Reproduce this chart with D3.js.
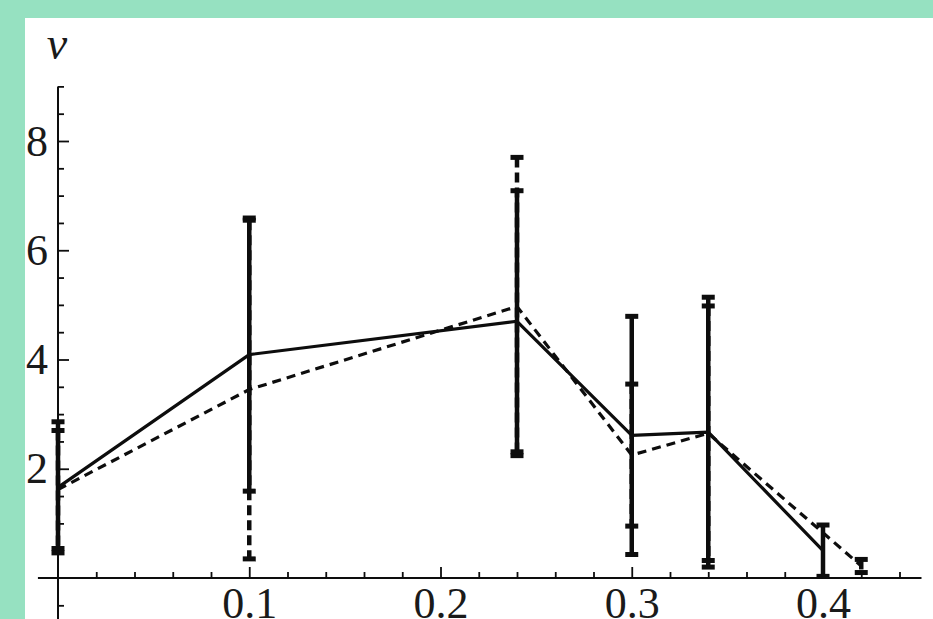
<!DOCTYPE html>
<html>
<head>
<meta charset="utf-8">
<script src="https://cdn.jsdelivr.net/npm/d3@7"></script>
<style>
  html, body { margin: 0; padding: 0; background: #96e1c1; overflow: hidden; }
  svg { display: block; }
</style>
</head>
<body>
<div id="plot_canvas"></div>
<script>
// values
const solidX = [0, 0.1, 0.24, 0.3, 0.34, 0.4];
const solidY = [1.66, 4.09, 4.70, 2.61, 2.67, 0.5];
const solidErr = [1.2, 2.5, 2.39, 2.18, 2.47, 0.47];

const dashedX = [0, 0.1, 0.24, 0.3, 0.34, 0.42];
const dashedY = [1.62, 3.45, 4.97, 2.25, 2.65, 0.22];
const dashedErr = [1.08, 3.1, 2.73, 1.3, 2.33, 0.12];

const xTickLabels = [0.1, 0.2, 0.3, 0.4];
const yTickLabels = [2, 4, 6, 8];
const yAxisLabel = 'v';

drawChart();

function drawChart() {
    const W = 933, H = 619;

    const svg = d3.select('#plot_canvas')
        .append('svg')
        .attr('width', W)
        .attr('height', H);

    // green frame + white panel
    svg.append('rect').attr('width', W).attr('height', H).attr('fill', '#96e1c1');
    svg.append('rect').attr('x', 25).attr('y', 18).attr('width', W - 25).attr('height', H - 18).attr('fill', '#ffffff');

    const x = d3.scaleLinear().domain([0, 0.4]).range([58, 823]);
    const y = d3.scaleLinear().domain([0, 8]).range([578, 141]);

    const font = '"Liberation Serif", "DejaVu Serif", serif';
    const ink = '#0d0d0d';

    // x axis line
    svg.append('line')
        .attr('x1', x(-0.0105)).attr('x2', x(0.4515))
        .attr('y1', y(0)).attr('y2', y(0))
        .attr('stroke', ink).attr('stroke-width', 2);

    // y axis line
    svg.append('line')
        .attr('x1', x(0)).attr('x2', x(0))
        .attr('y1', y(9)).attr('y2', H + 5)
        .attr('stroke', ink).attr('stroke-width', 2);

    // x minor ticks
    const xMinor = d3.range(0.02, 0.45, 0.02).filter(v => Math.abs(v * 10 - Math.round(v * 10)) > 1e-6);
    svg.append('g')
        .attr('transform', `translate(0,${y(0)})`)
        .call(d3.axisBottom(x).tickValues(xMinor).tickSizeInner(-6).tickSizeOuter(0).tickFormat(''))
        .call(g => g.select('.domain').remove())
        .call(g => g.selectAll('line').attr('stroke', ink).attr('stroke-width', 1.8));

    // x major ticks + labels
    svg.append('g')
        .attr('transform', `translate(0,${y(0)})`)
        .call(d3.axisBottom(x).tickValues(xTickLabels).tickSizeInner(-11).tickSizeOuter(0).tickPadding(9).tickFormat(d3.format('.1f')))
        .call(g => g.select('.domain').remove())
        .call(g => g.selectAll('line').attr('stroke', ink).attr('stroke-width', 1.8))
        .call(g => g.selectAll('text').attr('fill', '#1a1a1a').style('font-family', font).style('font-size', '44px'));

    // y minor ticks
    const yMinor = d3.range(-1, 9.01, 0.5).filter(v => v % 2 !== 0);
    svg.append('g')
        .attr('transform', `translate(${x(0)},0)`)
        .call(d3.axisLeft(y).tickValues(yMinor).tickSizeInner(-6).tickSizeOuter(0).tickFormat(''))
        .call(g => g.select('.domain').remove())
        .call(g => g.selectAll('line').attr('stroke', ink).attr('stroke-width', 1.8));

    // y major ticks + labels
    svg.append('g')
        .attr('transform', `translate(${x(0)},0)`)
        .call(d3.axisLeft(y).tickValues(yTickLabels).tickSizeInner(-11).tickSizeOuter(0).tickPadding(10))
        .call(g => g.select('.domain').remove())
        .call(g => g.selectAll('line').attr('stroke', ink).attr('stroke-width', 1.8))
        .call(g => g.selectAll('text').attr('fill', '#1a1a1a').style('font-family', font).style('font-size', '44px'));

    // axis label
    svg.append('text')
        .attr('x', x(0) - 1).attr('y', 59)
        .attr('text-anchor', 'middle')
        .attr('fill', '#1a1a1a')
        .style('font-family', font).style('font-style', 'italic').style('font-size', '46px')
        .text(yAxisLabel);

    const solid = solidX.map((v, i) => ({ x: v, y: solidY[i], e: solidErr[i] }));
    const dashed = dashedX.map((v, i) => ({ x: v, y: dashedY[i], e: dashedErr[i] }));

    const line = d3.line().x(d => x(d.x)).y(d => y(d.y));

    // dashed series
    svg.append('path')
        .datum(dashed)
        .attr('d', line)
        .attr('fill', 'none')
        .attr('stroke', ink)
        .attr('stroke-width', 3.2)
        .attr('stroke-dasharray', '9,6');

    // solid series
    svg.append('path')
        .datum(solid)
        .attr('d', line)
        .attr('fill', 'none')
        .attr('stroke', ink)
        .attr('stroke-width', 3.2)
        .attr('stroke-linejoin', 'round');

    drawErrorBars(svg, dashed, x, y, '10,5', ink);
    drawErrorBars(svg, solid, x, y, null, ink);
}

function drawErrorBars(svg, data, x, y, dash, ink) {
    const g = svg.append('g');

    g.selectAll('line.bar')
        .data(data)
        .join('line')
        .attr('class', 'bar')
        .attr('x1', d => x(d.x)).attr('x2', d => x(d.x))
        .attr('y1', d => y(d.y + d.e)).attr('y2', d => y(d.y - d.e))
        .attr('stroke', ink)
        .attr('stroke-width', 4.5)
        .attr('stroke-dasharray', dash);

    // caps
    const caps = [];
    data.forEach(d => {
        caps.push({ x: d.x, v: d.y + d.e });
        caps.push({ x: d.x, v: d.y - d.e });
    });
    g.selectAll('line.cap')
        .data(caps)
        .join('line')
        .attr('class', 'cap')
        .attr('x1', d => x(d.x) - 6.5).attr('x2', d => x(d.x) + 6.5)
        .attr('y1', d => y(d.v)).attr('y2', d => y(d.v))
        .attr('stroke', ink)
        .attr('stroke-width', 5);
}
</script>
</body>
</html>
